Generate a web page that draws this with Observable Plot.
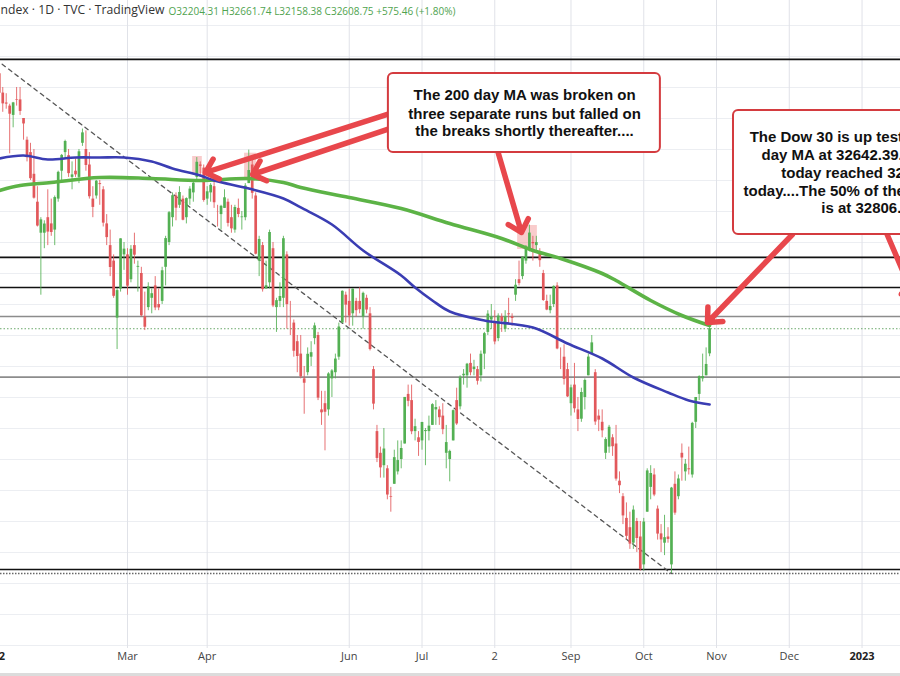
<!DOCTYPE html>
<html><head><meta charset="utf-8">
<script src="https://cdn.jsdelivr.net/npm/d3@7"></script>
<script src="https://cdn.jsdelivr.net/npm/@observablehq/plot@0.6"></script>
<style>
html,body{margin:0;padding:0;background:#fff;}
#chart{position:relative;width:900px;height:676px;overflow:hidden;background:#fff;}
#chart svg{display:block;}
.strip{position:absolute;left:0;right:0;bottom:0;height:3px;background:#dcdcdc;}
</style></head><body><div id="chart"><div class="strip"></div></div>
<script>
// Daily OHLC, Dow Jones, bars from 3 Jan 2022 (index 0) to 28 Oct 2022 (index 207)
const opens = [36322,36636,36722,36410,36250,36200,36050,36300,36300,36000,35650,35450,35100,34650,34150,34150,34400,34300,34200,34700,
35150,35450,35400,35050,35150,35050,35600,35500,35250,34700,34750,34950,34850,34300,33950,33700,32780,33250,33800,
33800,33400,33950,33600,33500,32800,32950,33100,33300,33000,33050,33600,34000,34400,34750,34600,34700,34400,34700,34800,35050,35250,35200,
34700,34800,34900,34500,34450,34550,34650,34400,34200,34550,34400,34400,34950,35250,34750,33700,33950,33250,33350,33900,
32950,33050,33100,33800,32900,32700,32400,32200,31800,31900,32150,32450,32500,31300,31400,31300,31800,31900,32150,32700,33150,
33050,32850,33050,33050,32800,33100,32850,31950,30950,30600,30400,30350,29900,30100,30300,30500,30750,31550,31450,30950,30850,
30800,30950,30950,31050,31300,31300,31200,30600,30500,30800,31450,31350,31850,31850,32050,31950,31950,31850,32200,32550,
32750,32700,32450,32800,32600,32850,32800,33150,33400,33450,33700,33900,34000,33950,33850,33500,33050,32900,33000,33300,32100,32150,31950,
31400,31700,31300,31150,31500,31850,32200,31900,31200,31100,30600,30700,30850,30750,30150,29900,29550,29400,29150,29500,29250,
28800,29650,30050,30250,29700,29300,29150,29250,28800,30100,29900,30600,30300,30350,30250,31100,31550,31800,31850,32204];
const highs = [36596,36953,36800,36500,36400,36230,36260,36500,36500,36000,35700,35600,35500,34900,34400,34350,34850,34700,34750,35150,
35420,35650,35500,35300,35350,35500,35830,35800,35450,34900,35000,35000,34900,34450,34200,33800,33260,34060,34000,
33900,33950,34150,33700,33600,33200,33350,33250,33450,33250,33600,34100,34500,34800,34800,34900,34750,34720,34900,34980,35370,35300,35250,
34900,34950,35050,34600,34600,34850,34700,34600,34600,34700,34500,34950,35490,35400,34800,34100,34000,33700,34200,34000,
33100,33350,34100,33850,33050,32750,32500,32500,32000,32300,32400,32700,32550,31600,31600,31900,31950,32200,32700,33220,33200,
33250,33250,33100,33270,33200,33150,32950,32000,31050,30700,31000,30400,30050,30650,30800,30800,31500,31700,31700,31150,30950,
31100,31000,31200,31400,31450,31350,31400,31050,30650,31300,31650,31850,31950,32050,32200,32100,32000,32250,32550,32900,
33000,32900,32850,32850,32900,33100,32850,33400,33700,33770,33950,34280,34100,34100,33900,33550,33150,33150,33300,33350,32300,32350,32050,
31700,32050,31500,31650,31800,32200,32500,31950,31300,31300,30850,31050,30900,31050,30300,29950,29800,29650,29750,29550,29500,
29550,30350,30400,30350,29750,29450,29600,29400,30050,30300,30250,30750,30500,30700,31100,31500,31850,32200,32300,32662];
const lows = [36246,36636,36400,36100,36150,35430,35850,36200,36050,35650,35300,35000,34700,34250,33150,33900,33950,34100,33950,34650,
35000,35350,35050,34850,35050,34950,35550,35150,34700,34400,34700,34600,34250,33950,33450,33100,32273,33200,33550,
33150,33350,33650,33200,32800,32580,32900,32850,32900,32900,33000,33300,33950,34250,34350,34550,34350,34300,34600,34650,35000,35050,34650,
34600,34650,34550,34250,34200,34550,34250,34150,34150,34400,34200,34350,34950,34700,33800,33450,33200,33250,33250,32950,
32550,32950,32950,32600,32500,32150,31900,31800,31230,31850,32000,32350,31450,31050,30640,31200,31500,31800,32100,32700,32700,
32650,32650,32800,32850,32600,32850,32250,31300,30450,30200,30200,29850,29650,30100,30250,30350,30750,31350,30900,30800,30550,
30650,30400,30800,31050,31050,31050,30900,30350,30140,30800,31050,31300,31700,31650,31850,31850,31700,31750,31950,32500,
32600,32350,32400,32550,32550,32700,32650,33050,33300,33400,33650,33850,33700,33850,33600,33050,32900,32850,32950,32270,31950,31700,31500,
31200,31250,30950,31100,31300,31850,32200,31050,30950,30850,30500,30600,30550,30150,29950,29450,29200,29050,29050,29000,28700,
28700,29650,29850,29900,29200,29000,28950,29150,28661,29600,29850,30150,30150,30250,30200,31000,31450,31750,31850,32158];
const closes = [36585,36800,36407,36236,36232,36069,36252,36290,36114,35912,35368,35029,34715,34265,34365,34298,34168,34161,34725,35132,
35405,35629,35111,35090,35091,35463,35768,35242,34738,34566,34989,34934,34312,34079,33597,33132,33224,34059,33893,
33295,33891,33795,33615,32817,32633,33286,33174,32944,32945,33544,34063,34481,34755,34553,34807,34359,34708,34861,34956,35294,35229,34678,
34818,34922,34641,34497,34584,34721,34308,34220,34565,34451,34412,34911,35161,34793,33811,34049,33240,33302,34161,32977,
33062,33129,34061,32998,32899,32246,32161,31834,31730,32197,32223,32655,31490,31253,31262,31880,31929,32120,32637,33213,32990,
32813,33248,32900,32916,33180,32911,32273,31393,30517,30365,30669,29927,29889,30530,30483,30677,31501,31438,30947,31029,30775,
31097,30968,31038,31385,31338,31174,30981,30773,30630,31288,31073,31827,31875,32037,31899,31990,31762,32198,32530,32845,
32798,32396,32813,32727,32803,32833,32774,33310,33337,33761,33912,34152,33980,33999,33707,33064,32910,32969,33292,32283,32099,31791,31510,
31656,31318,31145,31581,31775,32152,32381,31105,31135,30962,30822,31020,30706,30184,30077,29590,29261,29135,29684,29226,28726,
29491,30316,30274,29927,29297,29203,29239,29211,30039,29635,30186,30524,30424,30334,31083,31500,31837,31839,32033,32609];

// Moving averages: [bar index, value]
const ma100 = [[2,35355],[9,35403],[16,35339],[24,35371],[31,35371],[38,35371],[46,35306],[52,35194],[60,35081],[64,35000],
[74,34871],[84,34710],[89,34565],[98,34290],[107,33871],[118,33468],[122,33274],[127,33065],[132,32887],[142,32742],
[156,32629],[166,32371],[176,32129],[185,31823],[195,31581],[201,31452],[207,31387]];
const ma200 = [[2,34839],[8,34919],[17,34968],[31,35048],[46,35032],[60,35000],[74,35032],[84,34968],[89,34887],[103,34726],
[118,34548],[132,34306],[147,34065],[156,33871],[164,33742],[176,33500],[180,33387],[190,33065],[199,32823],[207,32661]];

// Horizontal levels
const blackLevels = [36952, 33760, 33274, 28726];
const greyLevels = [32807, 31828];
const lowLevel = [28661];
const lastPrice = [32609];

// Time axis
const tickIdx = [0, 39, 62, 103, 124, 145, 167, 188, 209, 230, 251];
const tickLabels = ["2022", "Mar", "Apr", "Jun", "Jul", "2", "Sep", "Oct", "Nov", "Dec", "2023"];
const boldTicks = ["2022", "2023"];

// Annotations (bar index / price)
const highlights = [
  {x1: 57.8, x2: 60.6, y1: 35113, y2: 35387},
  {x1: 72.8, x2: 76.2, y1: 35000, y2: 35440},
  {x1: 151.6, x2: 157.3, y1: 33887, y2: 34274}
];
const arrowsA = [
  {x1: 114.9, y1: 36081, x2: 61.5, y2: 35129},
  {x1: 114.9, y1: 35839, x2: 75.1, y2: 35097},
  {x1: 145.8, y1: 35484, x2: 152.7, y2: 34161},
  {x1: 230.9, y1: 34129, x2: 206.4, y2: 32710},
  {x1: 258.0, y1: 34161, x2: 266.4, y2: 33065}
];
const boxes = [
  {x1: 114.3, x2: 192.8, y1: 35452, y2: 36726},
  {x1: 213.9, x2: 290, y1: 34129, y2: 36129}
];
const note1 = ["The 200 day MA was broken on", "three separate runs but falled on", "the breaks shortly thereafter...."];
const note1Y = [36371, 36076, 35790];
const note2 = ["The Dow 30 is up testing the 200", "day MA at 32642.39. The high", "today reached 32661.74",
  "today....The 50% of the 2022 range", "is at 32806.8"];
const note2Y = [35698, 35403, 35118, 34827, 34560];

const titleText = "ndex · 1D · TVC · TradingView";
const ohlcText = "O32204.31 H32661.74 L32158.38 C32608.75 +575.46 (+1.80%)";

const bars = closes.map((c, i) => ({i, o: opens[i], h: highs[i], l: lows[i], c, up: c >= opens[i]}));
const UP = "#53b053", DOWN = "#e2585b";
const trend = [{i: 1, v: highs[1]}, {i: 196, v: lows[196]}];
const ticks = tickIdx.map((i, k) => ({i, label: tickLabels[k]}));
const n1 = note1.map((t, k) => ({x: 153.6, y: note1Y[k], t}));
const n2 = note2.map((t, k) => ({x: 252.0, y: note2Y[k], t}));
const FONT = "Liberation Sans, Arial, sans-serif";

const chart = Plot.plot({
  width: 900, height: 676,
  marginTop: 0, marginRight: 0, marginBottom: 28, marginLeft: 0,
  x: {domain: [2.35, 262.1], axis: null},
  y: {domain: [27451.6, 37903.2], axis: null},
  style: {background: "#fff", overflow: "hidden", fontFamily: FONT},
  marks: [
    Plot.ruleY(d3.range(27500, 38000, 500), {stroke: "#eceef2"}),
    Plot.ruleX(tickIdx, {stroke: "#e0e2e8"}),
    Plot.ruleY(blackLevels, {stroke: "#111", strokeWidth: 1.7}),
    Plot.ruleY(greyLevels, {stroke: "#8c8c8c", strokeWidth: 1.6}),
    Plot.ruleY(lowLevel, {stroke: "#666", strokeWidth: 1.3, strokeDasharray: "1.5,1.5"}),
    Plot.ruleY(lastPrice, {stroke: "#6aa86a", strokeWidth: 1, strokeDasharray: "1.5,2"}),
    Plot.line(trend, {x: "i", y: "v", stroke: "#555", strokeWidth: 1.3, strokeDasharray: "4,4"}),
    Plot.rect(highlights, {x1: "x1", x2: "x2", y1: "y1", y2: "y2", fill: "#ef8080", fillOpacity: 0.4}),
    Plot.ruleX(bars, {x: "i", y1: "l", y2: "h", stroke: d => d.up ? UP : DOWN, strokeWidth: 1, strokeOpacity: 0.85}),
    Plot.ruleX(bars, {x: "i", y1: "o", y2: "c", stroke: d => d.up ? UP : DOWN, strokeWidth: 2.7}),
    Plot.line(ma200, {x: d => d[0], y: d => d[1], stroke: "#5cb346", strokeWidth: 3.6, curve: "catmull-rom"}),
    Plot.line(ma100, {x: d => d[0], y: d => d[1], stroke: "#3a3db3", strokeWidth: 2.6, curve: "catmull-rom"}),
    Plot.arrow(arrowsA, {x1: "x1", y1: "y1", x2: "x2", y2: "y2", stroke: "#e8474c", strokeWidth: 5.5, headLength: 4.2, headAngle: 85}),
    Plot.rect(boxes, {x1: "x1", x2: "x2", y1: "y1", y2: "y2", fill: "#fff", stroke: "#d43b3f", strokeWidth: 2, rx: 5}),
    Plot.text(n1, {x: "x", y: "y", text: "t", fontSize: 15, fontWeight: "bold", fill: "#111", textAnchor: "middle"}),
    Plot.text(n2, {x: "x", y: "y", text: "t", fontSize: 15, fontWeight: "bold", fill: "#111", textAnchor: "middle"}),
    Plot.text([titleText], {frameAnchor: "top-left", dx: 0, dy: 5, textAnchor: "start", lineAnchor: "top", fontSize: 12.2, fill: "#333", fontFamily: "Open Sans, sans-serif"}),
    Plot.text([ohlcText], {frameAnchor: "top-left", dx: 168, dy: 7, textAnchor: "start", lineAnchor: "top", fontSize: 10, fill: "#4fa34f", fontFamily: "Open Sans, sans-serif"}),
    Plot.text(ticks.filter(d => !boldTicks.includes(d.label)), {x: "i", text: "label", frameAnchor: "bottom", dy: 11, fontSize: 11, fill: "#444", fontFamily: "Open Sans, sans-serif"}),
    Plot.text(ticks.filter(d => boldTicks.includes(d.label)), {x: "i", text: "label", frameAnchor: "bottom", dy: 11, fontSize: 11, fontWeight: "bold", fill: "#222", fontFamily: "Open Sans, sans-serif"})
  ]
});
document.getElementById("chart").prepend(chart);
</script>
</body></html>
